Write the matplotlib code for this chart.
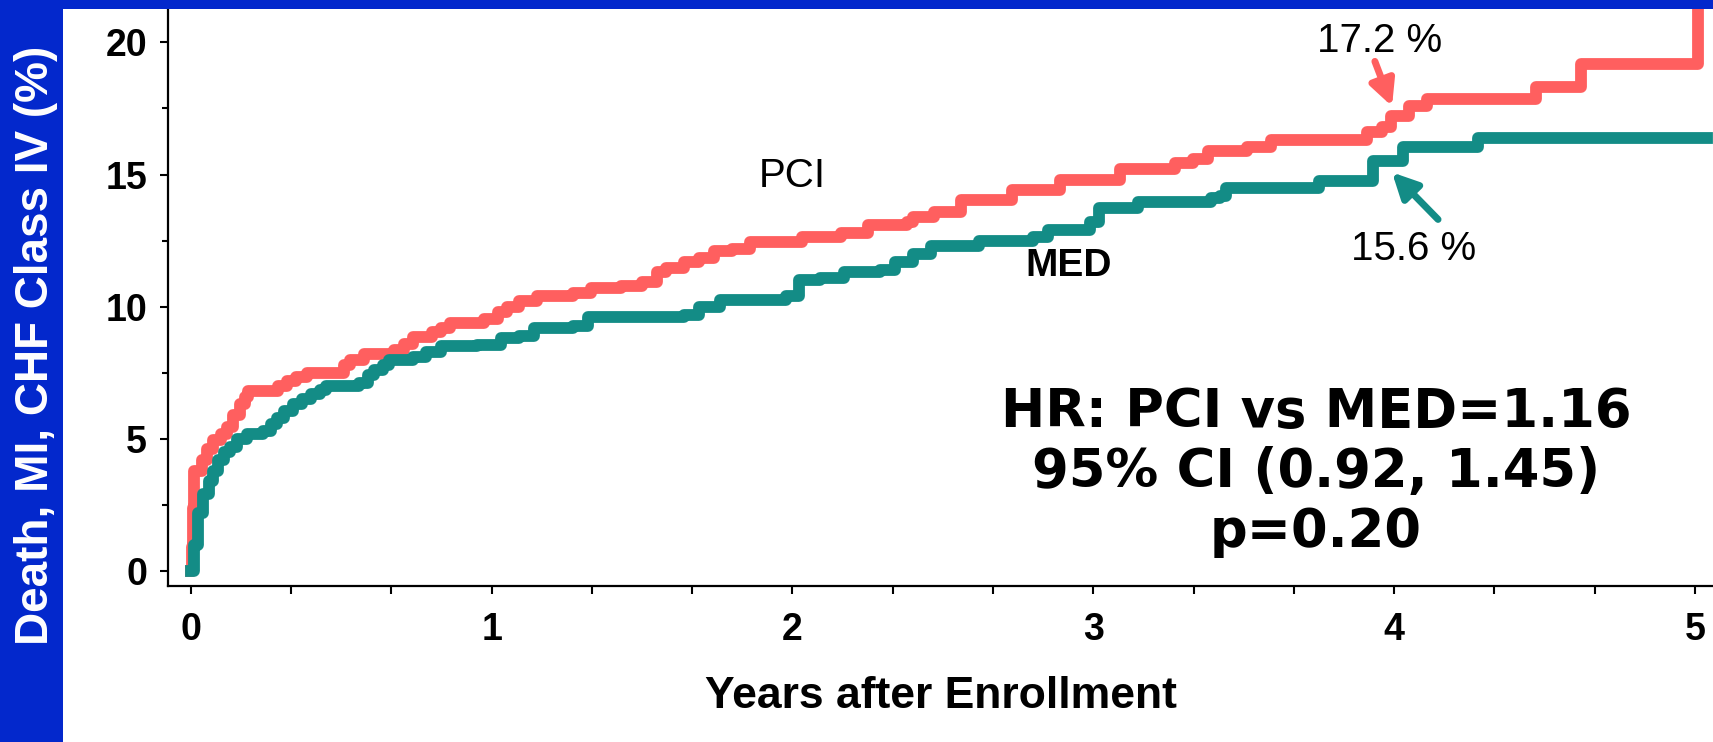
import numpy as np
import matplotlib
matplotlib.use("Agg")
import matplotlib.pyplot as plt
from matplotlib.patches import Rectangle
from matplotlib.ticker import MultipleLocator

# Kaplan-Meier style cumulative event curves (years, %)
pci_t = [0, 0.003, 0.006, 0.01, 0.037, 0.055, 0.075, 0.10, 0.12, 0.14, 0.164, 0.18, 0.19,
         0.29, 0.32, 0.35, 0.386, 0.51, 0.53, 0.575, 0.675, 0.71, 0.74, 0.80, 0.83, 0.86,
         0.975, 1.02, 1.05, 1.09, 1.15, 1.27, 1.33, 1.43, 1.50, 1.55, 1.58, 1.64, 1.69,
         1.74, 1.80, 1.86, 2.03, 2.16, 2.25, 2.38, 2.40, 2.47, 2.56, 2.73, 2.89, 3.09,
         3.27, 3.33, 3.38, 3.51, 3.59, 3.91, 3.96, 3.99, 4.05, 4.11, 4.47, 4.62, 5.01, 5.06]
pci_y = [0, 0.9, 2.4, 3.8, 4.2, 4.6, 4.95, 5.2, 5.45, 5.9, 6.3, 6.6, 6.8,
         7.0, 7.2, 7.35, 7.5, 7.8, 8.0, 8.2, 8.35, 8.6, 8.85, 9.05, 9.2, 9.4,
         9.55, 9.8, 10.0, 10.2, 10.4, 10.5, 10.7, 10.8, 10.95, 11.3, 11.45, 11.7, 11.85,
         12.1, 12.2, 12.45, 12.65, 12.8, 13.1, 13.2, 13.4, 13.6, 14.05, 14.4, 14.8, 15.2,
         15.45, 15.6, 15.9, 16.05, 16.3, 16.6, 16.8, 17.2, 17.6, 17.85, 18.3, 19.2, 22.0, 22.0]

med_t = [0, 0.01, 0.025, 0.04, 0.06, 0.075, 0.09, 0.11, 0.13, 0.155, 0.186, 0.24, 0.265,
         0.286, 0.31, 0.34, 0.37, 0.40, 0.43, 0.45, 0.56, 0.59, 0.61, 0.64, 0.66, 0.74,
         0.78, 0.83, 0.95, 1.03, 1.09, 1.14, 1.27, 1.32, 1.64, 1.69, 1.76, 1.98, 2.02,
         2.09, 2.17, 2.29, 2.34, 2.40, 2.46, 2.62, 2.80, 2.85, 2.99, 3.02, 3.15, 3.39,
         3.42, 3.44, 3.75, 3.93, 4.03, 4.28, 5.04]
med_y = [0, 1.0, 2.2, 2.9, 3.4, 3.8, 4.2, 4.5, 4.7, 5.0, 5.2, 5.3, 5.55,
         5.8, 6.05, 6.3, 6.5, 6.7, 6.85, 7.0, 7.1, 7.4, 7.6, 7.8, 8.0, 8.1,
         8.3, 8.5, 8.55, 8.8, 8.9, 9.2, 9.25, 9.6, 9.7, 10.0, 10.25, 10.4, 11.0,
         11.1, 11.3, 11.4, 11.7, 12.0, 12.3, 12.5, 12.65, 12.9, 13.2, 13.75, 13.95, 14.1,
         14.2, 14.5, 14.75, 15.5, 16.05, 16.4, 16.4]

x_ticks = [0, 1, 2, 3, 4, 5]
y_ticks = [0, 5, 10, 15, 20]

red = "#FF5F5F"
teal = "#138C86"
blue = "#0328CC"

fig = plt.figure(figsize=(17.13, 7.42), dpi=100)
ax = fig.add_axes([168 / 1713, 156 / 742, 1 - 168 / 1713, 578 / 742])

ax.plot(pci_t, pci_y, drawstyle="steps-post", color=red, lw=8.5)
ax.plot(med_t, med_y, drawstyle="steps-post", color=teal, lw=8.5)

ax.set_xlim(-0.076, 5.06)
ax.set_ylim(-0.57, 21.3)

ax.set_xticks(x_ticks)
ax.set_yticks(y_ticks)
ax.xaxis.set_minor_locator(MultipleLocator(1 / 3))
ax.yaxis.set_minor_locator(MultipleLocator(2.5))
for s in ["top", "right"]:
    ax.spines[s].set_visible(False)
for s in ["left", "bottom"]:
    ax.spines[s].set_linewidth(1.6)

ax.tick_params(axis="both", which="both", width=1.5, colors="black")
ax.tick_params(axis="y", which="major", length=6, pad=9)
ax.tick_params(axis="y", which="minor", length=4)
ax.tick_params(axis="x", which="both", length=6, pad=13)
for lab in ax.get_xticklabels() + ax.get_yticklabels():
    lab.set_fontfamily("Liberation Sans")
    lab.set_fontweight("bold")
    lab.set_fontsize(27)

ax.set_xlabel("Years after Enrollment", fontsize=32, fontweight="bold",
              family="Liberation Sans", labelpad=20)

# curve labels
ax.text(1.998, 14.96, "PCI", fontsize=29, family="Liberation Sans",
        ha="center", va="center")
ax.text(2.919, 11.52, "MED", fontsize=28, fontweight="bold",
        family="Liberation Sans", ha="center", va="center")

# final values with arrows
ax.text(3.953, 20.04, "17.2 %", fontsize=29, family="Liberation Sans",
        ha="center", va="center")
ax.text(4.066, 12.2, "15.6 %", fontsize=29, family="Liberation Sans",
        ha="center", va="center")
ax.annotate("", xy=(3.993, 17.58), xytext=(3.936, 19.28),
            arrowprops=dict(arrowstyle="-|>", color=red, lw=5, mutation_scale=38,
                            shrinkA=0, shrinkB=0))
ax.annotate("", xy=(3.993, 15.08), xytext=(4.146, 13.30),
            arrowprops=dict(arrowstyle="-|>", color=teal, lw=5, mutation_scale=38,
                            shrinkA=0, shrinkB=0))

ax.text(3.74, 3.75, "HR: PCI vs MED=1.16\n95% CI (0.92, 1.45)\np=0.20",
        fontsize=38, fontweight="bold", family="DejaVu Sans",
        ha="center", va="center", linespacing=1.2, multialignment="center")

# blue slide frame
fig.patches.append(Rectangle((0, 0), 63 / 1713, 1, transform=fig.transFigure,
                             facecolor=blue, edgecolor="none", zorder=5))
fig.patches.append(Rectangle((0, 1 - 9 / 742), 1, 9 / 742, transform=fig.transFigure,
                             facecolor=blue, edgecolor="none", zorder=5))
fig.text(36 / 1713, (742 - 345) / 742, "Death, MI, CHF Class IV (%)", color="white",
         rotation=90, fontsize=33, fontweight="bold", family="Liberation Sans",
         ha="center", va="center", zorder=6)

fig.savefig("out.png", dpi=100)
